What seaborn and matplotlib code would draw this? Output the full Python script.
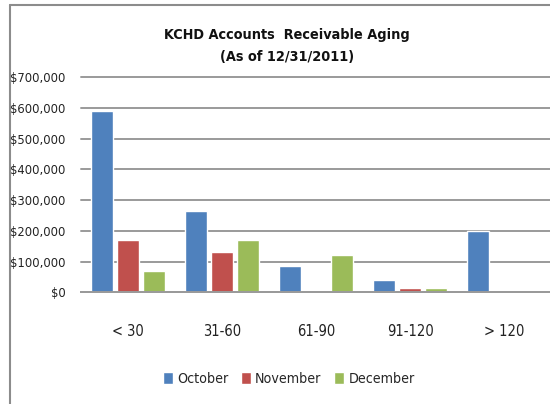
import numpy as np
import pandas as pd
import matplotlib
matplotlib.use('Agg')
import matplotlib.pyplot as plt
from matplotlib.lines import Line2D
import seaborn as sns

# chart data
buckets = ['< 30', '31-60', '61-90', '91-120', '> 120']
months = ['October', 'November', 'December']
october = [590000, 265000, 85000, 40000, 200000]
november = [170000, 130000, 0, 15000, 0]
december = [70000, 170000, 120000, 15000, 0]
colors = ['#4F81BD', '#C0504D', '#9BBB59']

# long form table for seaborn
df = pd.DataFrame({
    'Bucket': buckets * 3,
    'Month': [m for m in months for _ in buckets],
    'Amount': october + november + december,
})

sns.set_style('white')
plt.rcParams['font.family'] = ['DejaVu Sans']
plt.rcParams['font.stretch'] = 'condensed'

fig = plt.figure(figsize=(5.5, 4.04), dpi=100)
ax = fig.add_axes([81/550, (404-292.3)/404, 470/550, 215/404])

sns.barplot(data=df, x='Bucket', y='Amount', hue='Month', order=buckets,
            hue_order=months, palette=colors, width=0.83, gap=0.15,
            saturation=1, legend=True, ax=ax)

ax.set_ylim(0, 700000)
ax.set_xlim(-0.5, 4.5)
yticks = np.arange(0, 700001, 100000)
ax.set_yticks(yticks)
ax.set_yticklabels(['${:,.0f}'.format(v) for v in yticks], fontstretch='condensed')
ax.yaxis.grid(True, color='#9a9a9a', linewidth=1.4)
for gl in ax.get_ygridlines():
    gl.set_clip_on(False)
ax.set_axisbelow(True)
for s in ['left', 'right', 'top']:
    ax.spines[s].set_visible(False)
ax.spines['bottom'].set_color('#9a9a9a')
ax.spines['bottom'].set_linewidth(1.4)
ax.tick_params(axis='y', length=0, pad=11, labelsize=9.3, labelcolor='#222222')
ax.tick_params(axis='x', length=0, pad=23, labelsize=10.5, labelcolor='#222222')
ax.set_xlabel('')
ax.set_ylabel('')

# legend below the chart
handles, labels = ax.get_legend_handles_labels()
ax.get_legend().remove()
fig.legend(handles, labels, loc='center', bbox_to_anchor=(0.525, 1 - 379/404),
           ncol=3, frameon=False, fontsize=10.2, handlelength=0.7,
           handleheight=0.9, handletextpad=0.3, columnspacing=0.9)

fig.text(0.522, 1 - 35/404, 'KCHD Accounts  Receivable Aging', ha='center',
         va='center', fontsize=10.4, fontweight='bold', color='#111111')
fig.text(0.522, 1 - 57/404, '(As of 12/31/2011)', ha='center', va='center',
         fontsize=10.4, fontweight='bold', color='#111111')

# chart border (top and left edge visible)
fig.add_artist(Line2D([10/550, 10/550], [0, 1 - 5/404], color='#8c8c8c', linewidth=1.5,
                      transform=fig.transFigure))
fig.add_artist(Line2D([10/550, 1], [1 - 5/404, 1 - 5/404], color='#8c8c8c', linewidth=1.5,
                      transform=fig.transFigure))

fig.savefig('out.png', dpi=100)
